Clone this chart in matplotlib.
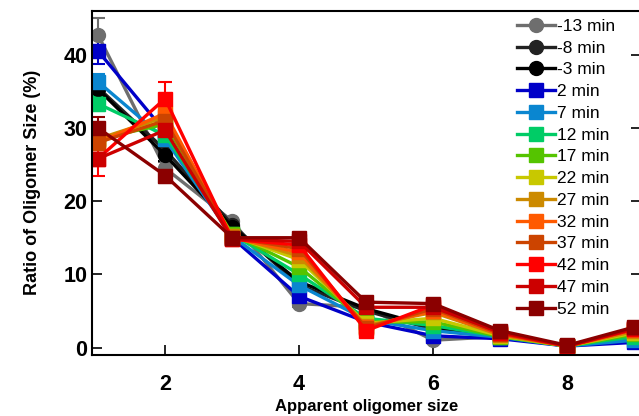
import numpy as np
import matplotlib.pyplot as plt

plt.rcParams['font.family'] = ['Liberation Sans', 'DejaVu Sans']

sizes = [1, 2, 3, 4, 5, 6, 7, 8, 9]
labels = ['-13 min', '-8 min', '-3 min', '2 min', '7 min', '12 min', '17 min',
          '22 min', '27 min', '32 min', '37 min', '42 min', '47 min', '52 min']
colors = ['#6e6e6e', '#222222', '#000000', '#0000c8', '#0a86d0', '#00cc66',
          '#55c400', '#c8c800', '#cc8a00', '#ff5a00', '#cc4400', '#ff0000',
          '#cc0000', '#8b0000']
markers = ['o', 'o', 'o'] + ['s'] * 11

values = [
    [42.7, 24.5, 17.3, 6.0, 5.5, 1.0, 1.5, 0.2, 1.2],
    [35.5, 27.0, 16.8, 8.5, 5.0, 2.5, 1.6, 0.2, 1.8],
    [35.3, 26.3, 16.5, 9.0, 5.3, 2.8, 1.8, 0.2, 1.8],
    [40.5, 29.5, 15.0, 7.0, 3.5, 1.6, 1.2, 0.2, 0.7],
    [36.3, 28.5, 15.2, 8.5, 3.8, 2.3, 1.4, 0.2, 1.0],
    [33.3, 29.0, 15.5, 10.0, 4.0, 3.0, 1.5, 0.2, 1.5],
    [28.5, 30.5, 15.5, 11.0, 3.5, 3.5, 1.5, 0.2, 1.8],
    [28.3, 31.0, 15.3, 12.0, 3.3, 4.0, 1.6, 0.2, 2.0],
    [28.5, 31.5, 15.2, 12.5, 3.0, 4.8, 1.7, 0.2, 2.2],
    [28.0, 32.0, 15.0, 13.0, 2.8, 5.0, 1.8, 0.2, 2.4],
    [28.0, 31.0, 15.0, 13.5, 2.7, 5.3, 1.9, 0.2, 2.5],
    [25.8, 34.0, 14.8, 14.0, 2.3, 5.8, 2.0, 0.2, 2.5],
    [25.8, 29.7, 14.8, 14.5, 5.5, 5.5, 2.1, 0.2, 2.6],
    [30.0, 23.5, 15.0, 15.0, 6.2, 6.0, 2.3, 0.3, 2.8],
]
errors = [
    [2.3, 0.8, 0.3, 0.5, 0.3, 0.2, 0.2, 0.1, 0.2],
    [0.8, 0.8, 0.3, 0.4, 0.3, 0.2, 0.2, 0.1, 0.2],
    [0.8, 0.8, 0.3, 0.4, 0.3, 0.2, 0.2, 0.1, 0.2],
    [1.8, 0.8, 0.3, 0.4, 0.3, 0.2, 0.2, 0.1, 0.2],
    [1.0, 0.8, 0.3, 0.4, 0.3, 0.2, 0.2, 0.1, 0.2],
    [1.0, 0.8, 0.3, 0.4, 0.3, 0.2, 0.2, 0.1, 0.2],
    [0.8, 0.8, 0.3, 0.4, 0.3, 0.2, 0.2, 0.1, 0.2],
    [0.8, 0.8, 0.3, 0.4, 0.3, 0.2, 0.2, 0.1, 0.2],
    [0.8, 0.8, 0.3, 0.4, 0.3, 0.2, 0.2, 0.1, 0.2],
    [0.8, 0.8, 0.3, 0.4, 0.3, 0.2, 0.2, 0.1, 0.2],
    [0.8, 0.8, 0.3, 0.4, 0.3, 0.2, 0.2, 0.1, 0.2],
    [2.3, 2.3, 0.3, 0.4, 0.3, 0.2, 0.2, 0.1, 0.2],
    [0.8, 0.8, 0.3, 0.4, 0.3, 0.2, 0.2, 0.1, 0.2],
    [1.5, 1.0, 0.3, 0.5, 0.3, 0.2, 0.2, 0.1, 0.2],
]

fig = plt.figure(figsize=(6.39, 4.16), dpi=100)
ax = fig.add_axes([0.144, 0.147, 0.859, 0.827])

for k, (lab, col, mk) in enumerate(zip(labels, colors, markers)):
    ax.errorbar(sizes, values[k], yerr=errors[k], color=col, marker=mk,
                markersize=10, linewidth=2.4, capsize=5, elinewidth=1.5,
                capthick=1.5, label=lab)

ax.set_xlim(0.91, 9.1)
ax.set_ylim(-1, 46)
ax.set_xticks([2, 4, 6, 8])
ax.set_yticks([0, 10, 20, 30, 40])
ax.tick_params(direction='in', length=7, width=1.2, right=True,
               labelsize=15.5)
ax.tick_params(axis='x', pad=14)
for t in ax.get_xticklabels() + ax.get_yticklabels():
    t.set_fontweight('bold')
for s in ax.spines.values():
    s.set_linewidth(1.5)

ax.set_xlabel('Apparent oligomer size', fontsize=12, fontweight='bold',
              labelpad=3)
ax.set_ylabel('Ratio of Oligomer Size (%)', fontsize=13, fontweight='bold',
              labelpad=16)

handles, labs = ax.get_legend_handles_labels()
handles = [h[0] for h in handles]
ax.legend(handles, labs, loc='upper left', bbox_to_anchor=(0.762, 0.997),
          frameon=False, fontsize=12.5, labelspacing=0.38, handlelength=2.2,
          handletextpad=0.1, borderaxespad=0)

fig.savefig('out.png', dpi=100)
